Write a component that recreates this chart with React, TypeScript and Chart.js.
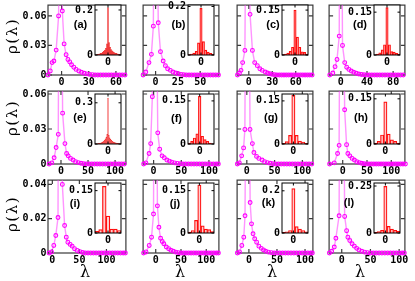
import React, { useEffect, useRef } from 'react';
import { Chart, registerables } from 'chart.js';
Chart.register(...registerables);

// ---------------- main panels: lambda / rho(lambda) ----------------
const lamA = [-15, -12.5, -10.5, -8.5, -6, -3.3, -1.2, 0.8, 2.8, 5, 7, 9, 11, 13.5, 16, 19, 22, 25, 28, 31, 34, 37, 40, 43, 46, 49, 52, 55, 58, 61, 64, 67, 70];
const rhoA = [0, 0.0041, 0.0126, 0.0142, 0.0253, 0.06, 0.4, 0.065, 0.0316, 0.0206, 0.0158, 0.0133, 0.0104, 0.0079, 0.0057, 0.0041, 0.0028, 0.0018, 0.0011, 0.0006, 0.0003, 0, 0, 0, 0, 0, 0, 0, 0, 0, 0, 0, 0];
const lamB = [-14, -11, -7.4, -4.7, -2.5, -0.9, 3, 5.5, 8.5, 11, 13.5, 16.5, 19.5, 22.5, 25.5, 28.5, 31.5, 34.5, 37.5, 40.5, 43.5, 46.5, 49.5, 52.5, 55.5, 58.5, 61.5, 64.5, 67.5, 70.5];
const rhoB = [0, 0.003, 0.0126, 0.021, 0.0496, 0.4, 0.053, 0.0237, 0.0142, 0.0095, 0.0063, 0.0047, 0.003, 0.002, 0.0012, 0.0006, 0.0002, 0, 0, 0, 0, 0, 0, 0, 0, 0, 0, 0, 0, 0];
const lamC = [-14.5, -12, -10, -7.9, -5, -2, 1.6, 4.6, 7.5, 10.9, 14.1, 17.1, 21, 24, 27, 30, 33, 36, 39, 42, 45, 48, 51, 54, 57, 60, 63, 66, 69, 72, 75, 78, 81];
const rhoC = [0, 0.002, 0.0047, 0.0126, 0.025, 0.4, 0.0616, 0.025, 0.0126, 0.0095, 0.0063, 0.0047, 0.003, 0.002, 0.0012, 0.0006, 0.0002, 0, 0, 0, 0, 0, 0, 0, 0, 0, 0, 0, 0, 0, 0, 0, 0];
const lamD = [-17, -12.3, -8.9, -5.9, -2.5, -0.5, 2.5, 5.9, 8.9, 12.3, 15.9, 19.7, 23.5, 27.5, 31.5, 35.5, 39.5, 43.5, 47.5, 51.5, 55.5, 59.5, 63.5, 67.5, 71.5, 75.5, 79.5, 83.5, 87.5, 91.5, 95.5];
const rhoD = [0, 0.002, 0.0085, 0.0158, 0.0395, 0.4, 0.03, 0.0126, 0.0079, 0.0057, 0.004, 0.0028, 0.0018, 0.001, 0.0005, 0.0002, 0, 0, 0, 0, 0, 0, 0, 0, 0, 0, 0, 0, 0, 0, 0];
const lamE = [-22, -17, -12.7, -9, -5, -2, 3, 7.3, 10.4, 13.3, 17.6, 22.4, 27, 32, 37, 42, 47, 52, 57, 62, 67, 72, 77, 82, 87, 92, 97, 102, 107, 112, 117];
const rhoE = [0, 0.001, 0.0053, 0.0141, 0.0254, 0.4, 0.0436, 0.0175, 0.009, 0.007, 0.0048, 0.0034, 0.002, 0.0012, 0.0006, 0.0002, 0, 0, 0, 0, 0, 0, 0, 0, 0, 0, 0, 0, 0, 0, 0];
const lamF = [-18, -14, -8.2, -5.3, -2.3, 0.5, 7.5, 11, 15.3, 19.3, 24, 28.6, 33, 38, 43, 48, 53, 58, 63, 68, 73, 78, 83, 88, 93, 98, 103, 108, 113, 117];
const rhoF = [0, 0.001, 0.009, 0.0175, 0.0577, 0.4, 0.0267, 0.0127, 0.007, 0.0053, 0.0034, 0.0025, 0.0016, 0.001, 0.0005, 0.0002, 0, 0, 0, 0, 0, 0, 0, 0, 0, 0, 0, 0, 0, 0];
const lamG = [-17, -13.5, -9.3, -5.8, -3.5, 0.5, 5.8, 10, 12.8, 17.5, 21.6, 27.5, 32, 37, 42, 47, 52, 57, 62, 67, 72, 77, 82, 87, 92, 97, 102, 107, 112, 117];
const rhoG = [0, 0.001, 0.007, 0.0138, 0.0296, 0.4, 0.0296, 0.0175, 0.0098, 0.0065, 0.0048, 0.0034, 0.002, 0.0012, 0.0006, 0.0002, 0, 0, 0, 0, 0, 0, 0, 0, 0, 0, 0, 0, 0, 0];
const lamH = [-27, -17.4, -10.6, -7.4, -3, 4, 8, 10.6, 14.6, 19.4, 24, 29, 34, 39, 44, 49, 54, 59, 64, 69, 74, 79, 84, 89, 94, 99, 104, 109, 114, 119, 124, 129];
const rhoH = [0, 0.001, 0.009, 0.016, 0.4, 0.0465, 0.0166, 0.009, 0.007, 0.0048, 0.0034, 0.002, 0.0012, 0.0006, 0.0002, 0, 0, 0, 0, 0, 0, 0, 0, 0, 0, 0, 0, 0, 0, 0, 0, 0];
const lamI = [-6, -1.5, 2.7, 6.4, 10.5, 13.6, 18.5, 22.7, 25.8, 28.7, 33, 36.7, 41, 46, 51, 56, 61, 66, 71, 76, 81, 86, 91, 96, 101, 106, 111, 116, 121, 126, 131, 135];
const rhoI = [0, 0.0006, 0.0044, 0.0102, 0.0207, 0.3, 0.04, 0.016, 0.0092, 0.0063, 0.005, 0.004, 0.0025, 0.0015, 0.0008, 0.0003, 0, 0, 0, 0, 0, 0, 0, 0, 0, 0, 0, 0, 0, 0, 0, 0];
const lamJ = [-24, -19.2, -12.9, -8.3, -4.4, -1, 3.3, 6.3, 9.6, 12.9, 16, 21, 25.6, 30, 35, 40, 45, 50, 55, 60, 65, 70, 75, 80, 85, 90, 95, 100, 105, 110, 115, 120, 124];
const rhoJ = [0, 0.0006, 0.0044, 0.0092, 0.0227, 0.3, 0.0275, 0.015, 0.0086, 0.0067, 0.0054, 0.0035, 0.0025, 0.0016, 0.001, 0.0005, 0.0002, 0, 0, 0, 0, 0, 0, 0, 0, 0, 0, 0, 0, 0, 0, 0, 0];
const lamK = [-20.5, -16.7, -12.6, -9.1, -6.9, -2, 2.2, 4.7, 7.4, 10.3, 13.8, 17.8, 22, 26, 30, 35, 40, 45, 50, 55, 60, 65, 70, 75, 80, 85, 90, 95, 100, 105, 110, 113];
const rhoK = [0, 0.0006, 0.0044, 0.0092, 0.0217, 0.3, 0.0294, 0.017, 0.0112, 0.0083, 0.0063, 0.004, 0.0027, 0.0018, 0.001, 0.0005, 0.0002, 0, 0, 0, 0, 0, 0, 0, 0, 0, 0, 0, 0, 0, 0, 0];
const lamL = [-21.5, -17.5, -13, -10.2, -4.6, -1, 5.1, 8.5, 10.7, 14, 18, 22, 26, 30, 35, 40, 45, 50, 55, 60, 65, 70, 75, 80, 85, 90, 95, 100, 105, 109];
const rhoL = [0, 0.001, 0.0035, 0.0086, 0.0217, 0.3, 0.0213, 0.013, 0.0092, 0.0073, 0.0054, 0.004, 0.0027, 0.0018, 0.001, 0.0005, 0.0002, 0, 0, 0, 0, 0, 0, 0, 0, 0, 0, 0, 0, 0];

// x ranges and tick labels of the main panels
const xRanges = [[-15, 71], [-14, 71], [-15, 82], [-18, 98], [-24, 120], [-19, 118], [-17.5, 119], [-28, 128], [-8, 136], [-25, 125], [-21, 114], [-22, 110]];
const xTicksA = [0, 30, 60];
const xTicksB = [0, 25, 50];
const xTicksC = [0, 30, 60];
const xTicksD = [0, 40, 80];
const xTicks100 = [0, 50, 100];
const rowYMax = [0.071, 0.0625, 0.0425];
const rowYTicks = [[0, 0.03, 0.06], [0, 0.03, 0.06], [0, 0.02, 0.04]];

// ---------------- insets: histograms ----------------
const histXA = [-12, -11, -10, -9, -8, -7, -6, -5, -4, -3, -2, -1, 0, 1, 2, 3, 4, 5, 6, 7, 8, 9, 10, 11, 12];
const histYA = [0.001, 0.002, 0.003, 0.004, 0.005, 0.007, 0.009, 0.012, 0.016, 0.022, 0.03, 0.05, 0.21, 0.055, 0.034, 0.024, 0.018, 0.014, 0.011, 0.009, 0.007, 0.005, 0.004, 0.003, 0.002];
const histXB = [-5, -4, -3, -2, -1, 0, 1, 2, 3, 4, 5];
const histYB = [0.002, 0.004, 0.008, 0.015, 0.05, 0.192, 0.055, 0.02, 0.012, 0.007, 0.004];
const histXC = [-5, -4, -3, -2, -1, 0, 1, 2, 3, 4, 5];
const histYC = [0.001, 0.003, 0.006, 0.012, 0.026, 0.15, 0.06, 0.026, 0.011, 0.009, 0.003];
const histXD = [-5, -4, -3, -2, -1, 0, 1, 2, 3, 4, 5];
const histYD = [0.001, 0.003, 0.008, 0.018, 0.036, 0.166, 0.036, 0.012, 0.01, 0.006, 0.003];
const histXE = [-15, -14, -13, -12, -11, -10, -9, -8, -7, -6, -5, -4, -3, -2, -1, 0, 1, 2, 3, 4, 5, 6, 7, 8, 9, 10, 11, 12, 13, 14, 15];
const histYE = [0.001, 0.001, 0.002, 0.003, 0.004, 0.005, 0.007, 0.009, 0.012, 0.016, 0.021, 0.028, 0.038, 0.05, 0.07, 0.335, 0.065, 0.045, 0.034, 0.026, 0.02, 0.016, 0.012, 0.01, 0.008, 0.006, 0.005, 0.004, 0.003, 0.002, 0.001];
const histXF = [-4, -3, -2, -1, 0, 1, 2, 3, 4, 5];
const histYF = [0.003, 0.009, 0.021, 0.035, 0.166, 0.027, 0.015, 0.009, 0.003, 0.001];
const histX8 = [-3, -2, -1, 0, 1, 2, 3, 4];
const histYG = [0.002, 0.008, 0.03, 0.17, 0.03, 0.01, 0.007, 0.002];
const histYH = [0.003, 0.009, 0.03, 0.14, 0.033, 0.014, 0.009, 0.003];
const histXI = [-3, -2, -1, 0, 1, 2, 3];
const histYI = [0.006, 0.012, 0.165, 0.06, 0.014, 0.014, 0.009];
const histYJ = [0.003, 0.009, 0.045, 0.17, 0.025, 0.014, 0.012, 0.005];
const histYK = [0.003, 0.006, 0.012, 0.21, 0.03, 0.018, 0.012, 0.006];
const histYL = [0.003, 0.007, 0.014, 0.248, 0.035, 0.021, 0.014, 0.009];
const insetXRanges = [[-12.5, 12.5], [-5.5, 5.5], [-5.5, 5.5], [-5.5, 5.5], [-15.5, 15.5], [-4.5, 5.5], [-3.5, 4.5], [-3.5, 4.5], [-3.5, 3.5], [-3.5, 4.5], [-3.5, 4.5], [-3.5, 4.5]];
const insetYMax = [0.222, 0.206, 0.167, 0.175, 0.364, 0.174, 0.174, 0.166, 0.177, 0.177, 0.237, 0.266];
const insetTopTick = [0.2, 0.2, 0.15, 0.15, 0.3, 0.15, 0.15, 0.15, 0.15, 0.15, 0.2, 0.25];
const insetXTicks = [0];
const panelNames = ['(a)', '(b)', '(c)', '(d)', '(e)', '(f)', '(g)', '(h)', '(i)', '(j)', '(k)', '(l)'];

// ---------------- layout (pixels) ----------------
const COLS = [[48, 127], [142, 220], [236, 314], [328, 406]];
const ROWS = [[1, 75], [90, 164], [179, 253]];
const LABEL_POS = [[80.5, 24], [178.5, 24], [273, 24], [360, 24], [80, 117], [176.5, 117.5], [271, 117], [361, 117], [75, 202.5], [175, 202.5], [268.5, 202], [349, 202]];

const MAG = '#ff00ff';
const LINE_C = 'rgba(255,60,255,0.55)';
const MONO = { family: "'DejaVu Sans Mono', monospace", size: 10, weight: 'bold' as const };

const lams = [lamA, lamB, lamC, lamD, lamE, lamF, lamG, lamH, lamI, lamJ, lamK, lamL];
const rhos = [rhoA, rhoB, rhoC, rhoD, rhoE, rhoF, rhoG, rhoH, rhoI, rhoJ, rhoK, rhoL];
const xTicksAll = [xTicksA, xTicksB, xTicksC, xTicksD, xTicks100, xTicks100, xTicks100, xTicks100, xTicks100, xTicks100, xTicks100, xTicks100];
const histXs = [histXA, histXB, histXC, histXD, histXE, histXF, histX8, histX8, histXI, histX8, histX8, histX8];
const histYs = [histYA, histYB, histYC, histYD, histYE, histYF, histYG, histYH, histYI, histYJ, histYK, histYL];

const fmt = (v: number) => (v === 0 ? '0' : String(v));

const framePlugin = {
  id: 'frame',
  beforeDatasetsDraw(chart: any, _a: any, o: any) {
    const a = chart.chartArea;
    const ctx = chart.ctx;
    if (o.bg) {
      ctx.save();
      ctx.fillStyle = '#fff';
      ctx.fillRect(a.left, a.top, a.right - a.left, a.bottom - a.top);
      ctx.restore();
    }
    if (!o.front) drawFrame(chart, o);
  },
  afterDatasetsDraw(chart: any, _a: any, o: any) {
    if (o.front) drawFrame(chart, o);
  },
};

function drawFrame(chart: any, o: any) {
  const { ctx, chartArea: a, scales } = chart;
  const tl = o.tickLen;
  ctx.save();
  ctx.strokeStyle = o.color;
  ctx.lineWidth = o.width;
  ctx.beginPath();
  scales.x.ticks.forEach((t: any) => {
    const p = scales.x.getPixelForValue(t.value);
    ctx.moveTo(p, a.bottom); ctx.lineTo(p, a.bottom - tl);
    ctx.moveTo(p, a.top); ctx.lineTo(p, a.top + tl);
  });
  scales.y.ticks.forEach((t: any) => {
    const p = scales.y.getPixelForValue(t.value);
    ctx.moveTo(a.left, p); ctx.lineTo(a.left + tl, p);
    ctx.moveTo(a.right, p); ctx.lineTo(a.right - tl, p);
  });
  ctx.stroke();
  ctx.strokeRect(a.left, a.top, a.right - a.left, a.bottom - a.top);
  ctx.restore();
}

function ChartBox({ left, top, width, height, make }: any) {
  const ref = useRef<HTMLCanvasElement>(null);
  useEffect(() => {
    const c = new Chart(ref.current as HTMLCanvasElement, make());
    return () => c.destroy();
  }, []);
  return <canvas ref={ref} width={width} height={height} style={{ position: 'absolute', left, top, width, height }} />;
}

function mainConfig(i: number, padL: number, padT: number, padR: number, padB: number): any {
  const row = Math.floor(i / 4);
  const col = i % 4;
  const lam = lams[i];
  const rho = rhos[i];
  const xt = xTicksAll[i];
  const yt = rowYTicks[row];
  return {
    type: 'line',
    data: {
      datasets: [{
        data: lam.map((x, k) => ({ x, y: rho[k] })),
        borderColor: LINE_C, borderWidth: 1.4,
        pointRadius: 1.9, pointBorderWidth: 1.1, pointBorderColor: MAG,
        pointBackgroundColor: 'rgba(255,255,255,0)', tension: 0,
        clip: { left: 3, right: 3, top: 0, bottom: 3 },
      }],
    },
    options: {
      responsive: false, animation: false, events: [],
      layout: { padding: { left: 0, top: padT, right: padR, bottom: 0 } },
      plugins: { legend: { display: false }, tooltip: { enabled: false }, frame: { color: '#3a3a3a', width: 1.2, tickLen: 4, front: false, bg: false } },
      scales: {
        x: {
          type: 'linear', min: xRanges[i][0], max: xRanges[i][1],
          afterBuildTicks: (s: any) => { s.ticks = xt.map((v) => ({ value: v })); },
          afterFit: (s: any) => { s.height = padB; s.paddingLeft = 0; s.paddingRight = 0; },
          grid: { display: false, drawTicks: false }, border: { display: false },
          ticks: { font: MONO, color: '#000', padding: 1.5, maxRotation: 0, autoSkip: false, callback: (v: number) => fmt(v) },
        },
        y: {
          type: 'linear', min: 0, max: rowYMax[row],
          afterBuildTicks: (s: any) => { s.ticks = yt.map((v) => ({ value: v })); },
          afterFit: (s: any) => { s.width = padL; s.paddingTop = 0; s.paddingBottom = 0; },
          grid: { display: false, drawTicks: false }, border: { display: false },
          ticks: { display: col === 0, font: MONO, color: '#000', padding: 1.5, autoSkip: false, callback: (v: number) => fmt(v) },
        },
      },
    },
    plugins: [framePlugin],
  };
}

function insetConfig(i: number, padL: number, padT: number, padR: number, padB: number): any {
  const hx = histXs[i];
  const hy = histYs[i];
  const yt = [0, insetTopTick[i]];
  const fine = hx.length > 15;
  return {
    type: 'bar',
    data: {
      datasets: [{
        data: hx.map((x, k) => ({ x, y: hy[k] })),
        backgroundColor: fine ? 'rgba(255,40,40,0.42)' : 'rgba(255,0,0,0.2)',
        borderColor: fine ? 'rgba(230,0,0,0.75)' : '#ff1010',
        borderWidth: fine ? 0.3 : 0.55,
        categoryPercentage: 1, barPercentage: 1, grouped: false,
      }],
    },
    options: {
      responsive: false, animation: false, events: [],
      layout: { padding: { left: 0, top: padT, right: padR, bottom: 0 } },
      plugins: { legend: { display: false }, tooltip: { enabled: false }, frame: { color: '#000', width: 1, tickLen: 2.5, front: true, bg: true } },
      scales: {
        x: {
          type: 'linear', offset: false, min: insetXRanges[i][0], max: insetXRanges[i][1],
          afterBuildTicks: (s: any) => { s.ticks = insetXTicks.map((v) => ({ value: v })); },
          afterFit: (s: any) => { s.height = padB; s.paddingLeft = 0; s.paddingRight = 0; },
          grid: { display: false, drawTicks: false, offset: false }, border: { display: false },
          ticks: { font: MONO, color: '#000', padding: 1, maxRotation: 0, autoSkip: false, callback: (v: number) => fmt(v) },
        },
        y: {
          type: 'linear', min: 0, max: insetYMax[i],
          afterBuildTicks: (s: any) => { s.ticks = yt.map((v) => ({ value: v })); },
          afterFit: (s: any) => { s.width = padL; s.paddingTop = 0; s.paddingBottom = 0; },
          grid: { display: false, drawTicks: false }, border: { display: false },
          ticks: { font: MONO, color: '#000', padding: 2, autoSkip: false, callback: (v: number) => fmt(v) },
        },
      },
    },
    plugins: [framePlugin],
  };
}

export default function App() {
  const items: any[] = [];
  const insets: any[] = [];
  const labels: any[] = [];
  for (let i = 0; i < 12; i++) {
    const row = Math.floor(i / 4);
    const col = i % 4;
    const [x0, x1] = COLS[col];
    const [y0, y1] = ROWS[row];
    const padL = col === 0 ? 46 : 4;
    const padT = row === 0 ? 1 : 4;
    const padR = 4;
    const padB = 16;
    items.push(
      <ChartBox key={'m' + i} left={x0 - padL} top={y0 - padT} width={padL + (x1 - x0) + padR} height={padT + (y1 - y0) + padB}
        make={() => mainConfig(i, padL, padT, padR, padB)} />
    );
    const ix0 = x1 - 32, ix1 = x1 - 6, iy0 = y0 + 4, iy1 = y0 + 54;
    const iL = 34, iT = 7, iR = 3, iB = 14;
    insets.push(
      <ChartBox key={'i' + i} left={ix0 - iL} top={iy0 - iT} width={iL + (ix1 - ix0) + iR} height={iT + (iy1 - iy0) + iB}
        make={() => insetConfig(i, iL, iT, iR, iB)} />
    );
    labels.push(
      <div key={'l' + i} style={{ position: 'absolute', left: LABEL_POS[i][0], top: LABEL_POS[i][1], transform: 'translate(-50%,-50%)', fontFamily: "'Liberation Sans', Arial, sans-serif", fontWeight: 'bold', fontSize: 11, lineHeight: '1', whiteSpace: 'nowrap', color: '#000' }}>{panelNames[i]}</div>
    );
  }
  const yLabelPos = [36, 118, 214];
  const xLabelPos = [85, 180, 272, 360];
  return (
    <div style={{ position: 'absolute', left: 0, top: 0, width: 415, height: 281, background: '#fff', overflow: 'hidden' }}>
      {items}
      {insets}
      {labels}
      {yLabelPos.map((y, k) => (
        <div key={'yl' + k} style={{ position: 'absolute', left: 12, top: y, transform: 'translate(-50%,-50%) rotate(-90deg)', fontFamily: "'DejaVu Serif', serif", fontSize: 15, letterSpacing: 1.5, lineHeight: '1', whiteSpace: 'nowrap', color: '#000' }}>ρ(λ)</div>
      ))}
      {xLabelPos.map((x, k) => (
        <div key={'xl' + k} style={{ position: 'absolute', left: x, top: 272, transform: 'translate(-50%,-50%)', fontFamily: "'DejaVu Serif', serif", fontSize: 16, lineHeight: '1', whiteSpace: 'nowrap', color: '#000' }}>λ</div>
      ))}
    </div>
  );
}
